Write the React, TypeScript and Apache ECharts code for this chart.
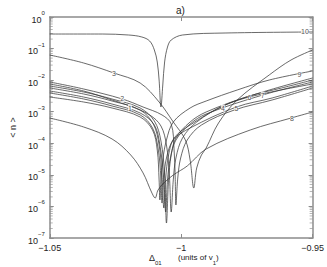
import React, { useEffect, useRef } from 'react';
import * as echarts from 'echarts';

// Curve data: detuning (units of v1) and <n>
const c1X = [-1.05, -1.0371, -1.0263, -1.0195, -1.012, -1.0077, -1.0056, -1.0045, -1.0038, -1.003, -1.002, -0.9995, -0.9941, -0.9833, -0.969, -0.95];
const c1N = [7.55e-3, 4.53e-3, 2.35e-3, 1.52e-3, 7.9e-4, 3.53e-4, 8.83e-5, 9.9e-6, 6.65e-7, 6.9e-6, 3.42e-5, 1.47e-4, 4.72e-4, 1.63e-3, 4.21e-3, 1.17e-2];

const c2X = [-1.05, -1.0371, -1.0224, -1.0145, -1.0073, -1.0038, -1.0027, -1.0023, -1.002, -1.0013, -1.0002, -0.9977, -0.9923, -0.9798, -0.9654, -0.95];
const c2N = [8.73e-3, 5.24e-3, 2.53e-3, 1.41e-3, 7.9e-4, 4.08e-4, 6.12e-5, 9.9e-6, 1.11e-6, 7.9e-6, 3.42e-5, 1.27e-4, 3.79e-4, 1.13e-3, 2.35e-3, 5.64e-3];

const c3X = [-1.05, -1.0371, -1.0256, -1.0156, -1.0084, -1.003, -0.9984, -0.9966, -0.9952, -0.9941, -0.9923, -0.9905, -0.9858, -0.9787, -0.9665, -0.9582, -0.95];
const c3N = [6.25e-2, 3.49e-2, 1.68e-2, 8.11e-3, 2.03e-3, 4.72e-4, 1.27e-4, 2.95e-5, 3.83e-6, 1.65e-5, 4.26e-5, 7.08e-5, 4.39e-4, 2.35e-3, 1.46e-2, 4.35e-2, 9.01e-2];

const c4X = [-1.05, -1.0371, -1.0263, -1.0156, -1.0106, -1.0084, -1.0073, -1.0066, -1.0059, -1.0048, -1.0027, -0.9966, -0.9841, -0.9726, -0.95];
const c4N = [5.64e-3, 3.64e-3, 2.18e-3, 1.13e-3, 4.08e-4, 8.83e-5, 9.9e-6, 8.9e-7, 7.9e-6, 4.26e-5, 1.47e-4, 3.79e-4, 1.52e-3, 3.15e-3, 7.55e-3];

const c5X = [-1.05, -1.0371, -1.0263, -1.0156, -1.0109, -1.0088, -1.0077, -1.0073, -1.0066, -1.0056, -1.003, -0.9966, -0.979, -0.9654, -0.95];
const c5N = [3.92e-3, 2.53e-3, 1.52e-3, 7.9e-4, 3.05e-4, 7.08e-5, 7.9e-6, 1.28e-6, 7.9e-6, 3.42e-5, 1.27e-4, 3.05e-4, 1.41e-3, 2.72e-3, 6.52e-3];

const c6X = [-1.05, -1.0371, -1.0263, -1.0156, -1.0102, -1.0077, -1.0063, -1.0056, -1.0048, -1.0038, -1.002, -0.9966, -0.9905, -0.974, -0.9618, -0.95];
const c6N = [6.52e-3, 4.21e-3, 2.53e-3, 1.31e-3, 5.08e-4, 1.18e-4, 9.9e-6, 2.98e-7, 6.9e-6, 4.26e-5, 1.47e-4, 4.72e-4, 9.8e-4, 3.15e-3, 5.64e-3, 1.01e-2];

const c7X = [-1.05, -1.0371, -1.0263, -1.0156, -1.0102, -1.0081, -1.0066, -1.0059, -1.0052, -1.0041, -1.002, -0.9966, -0.9905, -0.969, -0.95];
const c7N = [4.53e-3, 2.92e-3, 1.75e-3, 9.1e-4, 3.79e-4, 8.83e-5, 6.9e-6, 6.65e-7, 6.9e-6, 3.42e-5, 1.27e-4, 4.08e-4, 8.47e-4, 3.38e-3, 8.73e-3];

const c8X = [-1.05, -1.0371, -1.0263, -1.0192, -1.0145, -1.0113, -1.0099, -1.0088, -1.0066, -1.003, -0.9977, -0.9905, -0.9737, -0.9582, -0.95];
const c8N = [6.3e-4, 3.28e-4, 1.37e-4, 4.26e-5, 1.15e-5, 2.86e-6, 1.85e-6, 3.31e-6, 5.52e-6, 9.9e-6, 1.91e-5, 6.59e-5, 2.64e-4, 6.3e-4, 9.8e-4];

const c9X = [-1.05, -1.0371, -1.0263, -1.0156, -1.0109, -1.0091, -1.0084, -1.0081, -1.0077, -1.007, -1.0056, -1.003, -0.9966, -0.9905, -0.9787, -0.9665, -0.95];
const c9N = [2.92e-3, 2.03e-3, 1.31e-3, 6.8e-4, 2.64e-4, 6.12e-5, 6.9e-6, 1.6e-6, 5.93e-6, 2.95e-5, 1.27e-4, 4.72e-4, 1.31e-3, 2.18e-3, 4.87e-3, 1.01e-2, 1.95e-2];

const c10X = [-1.05, -1.03, -1.02, -1.015, -1.012, -1.0102, -1.0091, -1.0084, -1.0077, -1.007, -1.0063, -1.0052, -1.0038, -0.9995, -0.9833, -0.95];
const c10N = [0.289, 0.289, 0.269, 0.233, 0.174, 0.0901, 0.0376, 0.0101, 0.00141, 0.00702, 0.0376, 0.112, 0.187, 0.269, 0.311, 0.335];

// Curve labels
const labelText = ['10', '9', '6', '7', '4', '5', '8', '3', '2', '1'];
const labelX = [-0.9529, -0.955, -0.974, -0.969, -0.9841, -0.979, -0.9579, -1.0256, -1.0224, -1.0195];
const labelN = [0.335, 0.01565, 0.00292, 0.00338, 0.00131, 0.00122, 0.00063, 0.0168, 0.00253, 0.00131];

// Axis ticks
const xTicks = [-1.05, -1, -0.95];
const minorMultipliers = [2, 3, 4, 5, 6, 7, 8, 9];
const decades = [-7, -6, -5, -4, -3, -2, -1];

const curves = [
  [c1X, c1N], [c2X, c2N], [c3X, c3N], [c4X, c4N], [c5X, c5N],
  [c6X, c6N], [c7X, c7N], [c8X, c8N], [c9X, c9N], [c10X, c10N],
];

const FONT = '"Liberation Sans", Arial, sans-serif';
const AXIS_COLOR = '#8c8c8c';
const LINE_COLOR = '#383838';

export default function App() {
  const ref = useRef<HTMLDivElement>(null);
  useEffect(() => {
    if (!ref.current) return;
    const chart = echarts.init(ref.current, undefined, { renderer: 'svg' });

    const minorVals: number[] = [];
    decades.forEach((d) => minorMultipliers.forEach((m) => minorVals.push(m * Math.pow(10, d))));

    const lineSeries = curves.map(([xs, ns], i) => ({
      type: 'line',
      name: 'c' + (i + 1),
      data: (xs as number[]).map((x, j) => [x, (ns as number[])[j]]),
      showSymbol: false,
      smooth: 0.35,
      lineStyle: { color: LINE_COLOR, width: 0.75 },
      z: 3,
    }));

    const fmtX = (v: number) => {
      const r = Math.round(v * 100) / 100;
      return (r < 0 ? '\u2212' : '') + String(Math.abs(r));
    };

    const option: any = {
      animation: false,
      grid: { left: 34, right: 14, top: 17, bottom: 29, show: false },
      title: {
        text: 'a)', left: 171, top: 0,
        textStyle: { fontSize: 10, fontWeight: 'normal', color: '#222', fontFamily: FONT },
      },
      xAxis: [
        {
          type: 'value', min: -1.05, max: -0.95, interval: 0.05,
          axisLine: { show: true, onZero: false, lineStyle: { color: AXIS_COLOR, width: 1.5 } },
          axisTick: { show: true, inside: true, length: 4, lineStyle: { color: AXIS_COLOR } },
          axisLabel: {
            fontSize: 9, color: '#222', fontFamily: FONT, margin: 5,
            formatter: (v: number) => (xTicks.some((t) => Math.abs(t - v) < 1e-6) ? fmtX(v) : ''),
          },
          splitLine: { show: false },
        },
        {
          type: 'value', min: -1.05, max: -0.95, interval: 0.05, position: 'top',
          axisLine: { show: true, onZero: false, lineStyle: { color: AXIS_COLOR, width: 1.5 } },
          axisTick: { show: true, inside: true, length: 4, lineStyle: { color: AXIS_COLOR } },
          axisLabel: { show: false },
          splitLine: { show: false },
        },
      ],
      yAxis: [
        {
          type: 'log', logBase: 10, min: 1e-7, max: 1,
          name: '< n >', nameLocation: 'middle', nameGap: 27, nameRotate: 90,
          nameTextStyle: { fontSize: 9, color: '#222', fontFamily: FONT },
          axisLine: { show: true, onZero: false, lineStyle: { color: AXIS_COLOR, width: 1.5 } },
          axisTick: { show: true, inside: true, length: 4, lineStyle: { color: AXIS_COLOR } },
          axisLabel: {
            margin: 5,
            formatter: (v: number) => {
              const e = Math.round(Math.log10(v));
              return '{b|10}{e|' + (e < 0 ? '\u2212' + -e : String(e)) + '}';
            },
            rich: {
              b: { fontSize: 9, color: '#222', fontFamily: FONT, lineHeight: 14, verticalAlign: 'bottom' },
              e: { fontSize: 6, color: '#222', fontFamily: FONT, lineHeight: 14, verticalAlign: 'top' },
            },
          },
          splitLine: { show: false },
        },
        {
          type: 'log', logBase: 10, min: 1e-7, max: 1, position: 'right',
          axisLine: { show: true, onZero: false, lineStyle: { color: AXIS_COLOR, width: 1.5 } },
          axisTick: { show: true, inside: true, length: 4, lineStyle: { color: AXIS_COLOR } },
          axisLabel: { show: false },
          splitLine: { show: false },
        },
      ],
      graphic: [
        {
          type: 'text', left: 149, top: 253,
          style: {
            text: '{a|\u0394}{s|01}',
            rich: {
              a: { fontSize: 9, fontFamily: FONT, fill: '#222', lineHeight: 13, verticalAlign: 'top' },
              s: { fontSize: 6, fontFamily: FONT, fill: '#222', lineHeight: 13, verticalAlign: 'bottom' },
            },
          },
        },
        {
          type: 'text', left: 178, top: 253,
          style: {
            text: '{a|(units of v}{s|1}{a|)}',
            rich: {
              a: { fontSize: 8, fontFamily: '"Liberation Sans Narrow", "Liberation Sans", Arial, sans-serif', fill: '#222', lineHeight: 13, verticalAlign: 'top' },
              s: { fontSize: 6, fontFamily: FONT, fill: '#222', lineHeight: 13, verticalAlign: 'bottom' },
            },
          },
        },
      ],
      series: [
        ...lineSeries,
        {
          type: 'scatter', silent: true, symbol: 'rect', symbolSize: [3, 0.8], symbolOffset: [1.5, 0],
          itemStyle: { color: AXIS_COLOR }, z: 2,
          data: minorVals.map((v) => [-1.05, v]),
        },
        {
          type: 'scatter', silent: true, symbol: 'rect', symbolSize: [3, 0.8], symbolOffset: [-1.5, 0],
          itemStyle: { color: AXIS_COLOR }, z: 2,
          data: minorVals.map((v) => [-0.95, v]),
        },
        {
          type: 'scatter', silent: true, symbolSize: 0, z: 5,
          data: labelText.map((t, i) => ({ name: t, value: [labelX[i], labelN[i]] })),
          label: {
            show: true, position: 'inside', formatter: '{b}', fontSize: 7, color: '#222',
            fontFamily: FONT, backgroundColor: '#fff', padding: [0, 0],
          },
        },
      ],
    };
    chart.setOption(option);
    return () => chart.dispose();
  }, []);
  return <div ref={ref} style={{ position: 'fixed', left: 0, top: 0, width: 327, height: 267, background: '#fff' }} />;
}
